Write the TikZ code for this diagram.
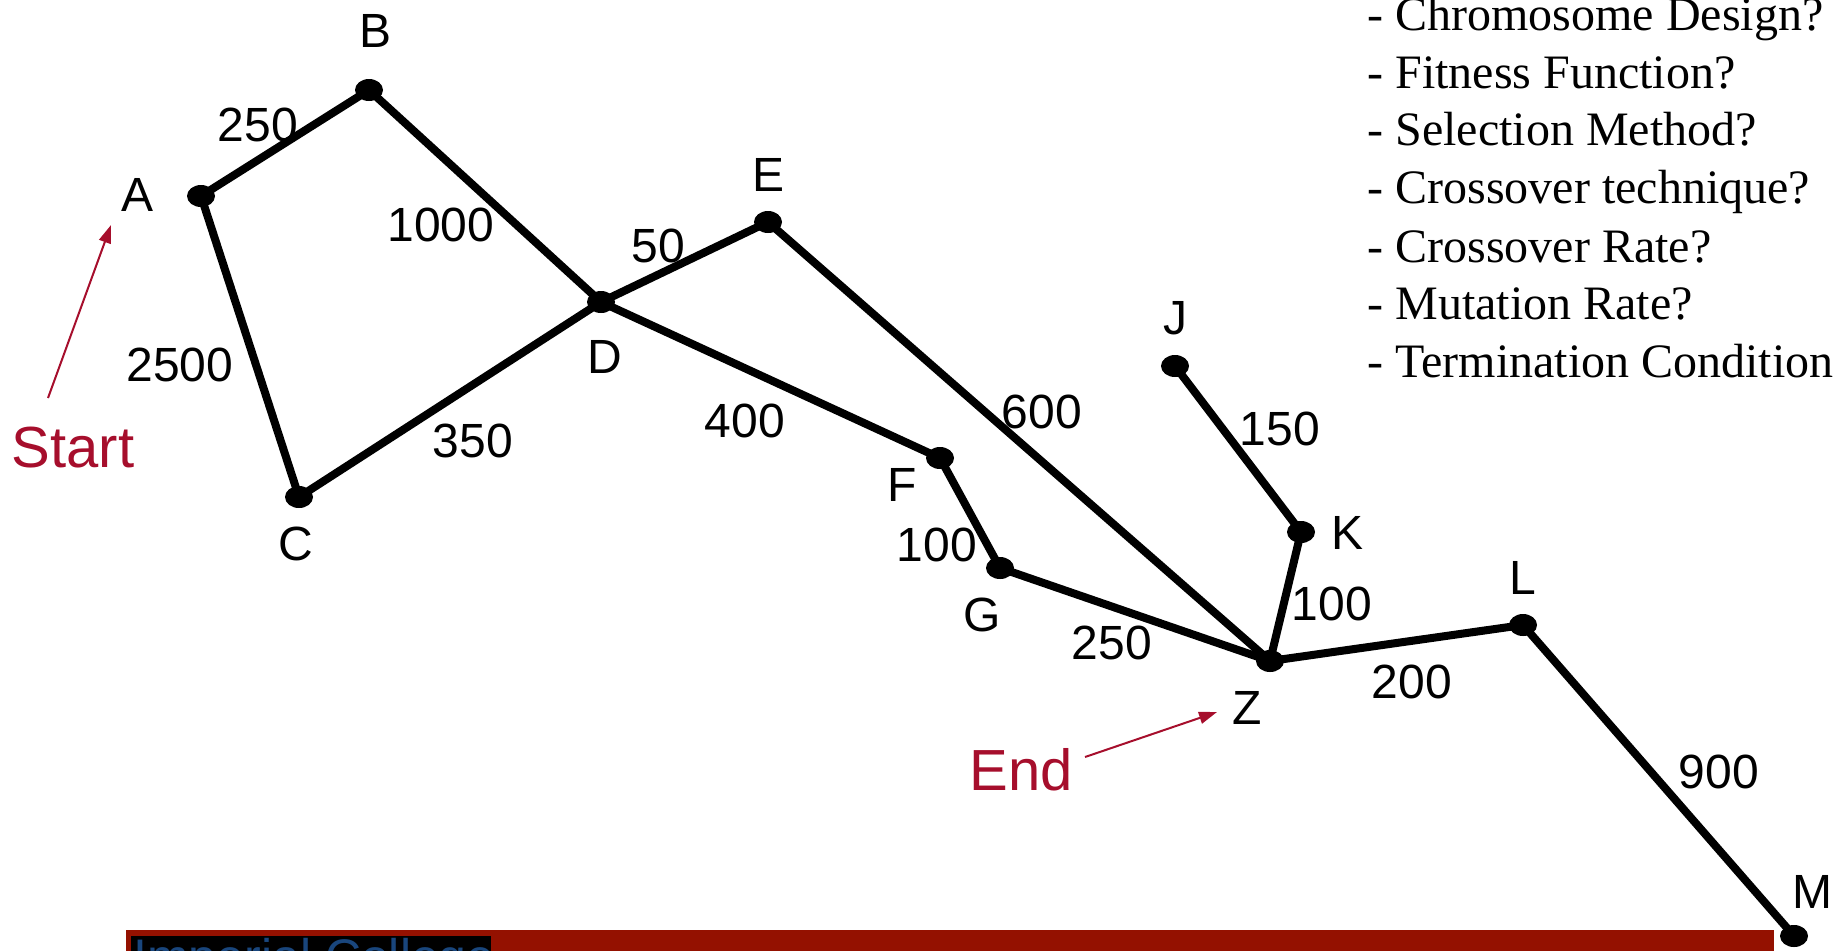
\documentclass[tikz,border=0pt]{standalone}
\usepackage{fontspec}
\setmainfont{Liberation Sans}
\newfontfamily\serifx{Liberation Serif}
\usetikzlibrary{shapes.geometric,arrows.meta}
\definecolor{startred}{RGB}{166,14,44}
\definecolor{barred}{RGB}{148,17,0}
\definecolor{icblue}{RGB}{25,70,125}
\tikzset{
  dot/.style={ellipse,fill=black,inner sep=0pt,minimum width=14pt,minimum height=11pt},
  edge/.style={line width=4pt,black},
  lbl/.style={font=\fontsize{24}{28}\selectfont,inner sep=0pt},
  redlbl/.style={font=\fontsize{29}{34}\selectfont,text=startred,inner sep=0pt},
  redarrow/.style={draw=startred,line width=1pt,-{Triangle[length=9pt,width=6pt]}},
  qline/.style={font=\serifx\fontsize{24}{28}\selectfont,anchor=base west,inner sep=0pt}
}
\begin{document}
\begin{tikzpicture}[x=0.5pt,y=-0.5pt]
\useasboundingbox (0,0) rectangle (1834,950);
\clip (0,0) rectangle (1834,950);
% vertices
\node[dot] (A) at (201,196) {};
\node[dot] (B) at (369,90) {};
\node[dot] (C) at (299,497) {};
\node[dot] (D) at (601,302) {};
\node[dot] (E) at (768,222) {};
\node[dot] (F) at (940,458) {};
\node[dot] (G) at (1000,568) {};
\node[dot] (Z) at (1270,661) {};
\node[dot] (J) at (1175,366) {};
\node[dot] (K) at (1301,532) {};
\node[dot] (L) at (1523,625) {};
\node[dot] (M) at (1794,936) {};
% edges
\draw[edge] (A.center) -- (B.center);
\draw[edge] (A.center) -- (C.center);
\draw[edge] (B.center) -- (D.center);
\draw[edge] (C.center) -- (D.center);
\draw[edge] (D.center) -- (E.center);
\draw[edge] (D.center) -- (F.center);
\draw[edge] (E.center) -- (Z.center);
\draw[edge] (F.center) -- (G.center);
\draw[edge] (G.center) -- (Z.center);
\draw[edge] (J.center) -- (K.center);
\draw[edge] (K.center) -- (Z.center);
\draw[edge] (Z.center) -- (L.center);
\draw[edge] (L.center) -- (M.center);
% vertex labels
\node[lbl] (lA) at (138,195) {A};
\node[lbl] (lB) at (376,31) {B};
\node[lbl] (lC) at (296,544) {C};
\node[lbl] (lD) at (605,357) {D};
\node[lbl] (lE) at (768,175) {E};
\node[lbl] (lF) at (902,485) {F};
\node[lbl] (lG) at (982,615) {G};
\node[lbl] (lZ) at (1247,708) {Z};
\node[lbl] (lJ) at (1175,318) {J};
\node[lbl] (lK) at (1347,533) {K};
\node[lbl] (lL) at (1523,578) {L};
\node[lbl] (lM) at (1812,892) {M};
% weights
\node[lbl] (wAB) at (258,125) {250};
\node[lbl] (wBD) at (441,225) {1000};
\node[lbl] (wAC) at (180,365) {2500};
\node[lbl] (wCD) at (473,441) {350};
\node[lbl] (wDE) at (658,246) {50};
\node[lbl] (wDF) at (745,421) {400};
\node[lbl] (wEZ) at (1042,412) {600};
\node[lbl] (wFG) at (937,545) {100};
\node[lbl] (wJK) at (1280,429) {150};
\node[lbl] (wKZ) at (1332,604) {100};
\node[lbl] (wGZ) at (1112,643) {250};
\node[lbl] (wZL) at (1412,682) {200};
\node[lbl] (wLM) at (1719,772) {900};
% start / end
\node[redlbl] (start) at (73,448) {Start};
\node[redlbl] (endl) at (1021,770) {End};
\coordinate (st0) at (48,398);
\coordinate (st1) at (111,225);
\coordinate (en0) at (1085,757);
\coordinate (en1) at (1217,712);
\draw[redarrow] (st0) -- (st1);
\draw[redarrow] (en0) -- (en1);
% question list
\node[qline] (q1) at (1367,30) {- Chromosome Design?};
\node[qline] (q2) at (1367,88) {- Fitness Function?};
\node[qline] (q3) at (1367,145) {- Selection Method?};
\node[qline] (q4) at (1367,203) {- Crossover technique?};
\node[qline] (q5) at (1367,262) {- Crossover Rate?};
\node[qline] (q6) at (1367,319) {- Mutation Rate?};
\node[qline] (q7) at (1367,377) {- Termination Condition?};
% bottom bar
\fill[barred] (126,930) rectangle (1774,960);
\fill[black] (131,936) rectangle (491,960);
\begin{scope}
\clip (131,936) rectangle (491,960);
\node[font=\fontsize{25}{28}\selectfont,text=icblue,anchor=base west,inner sep=0pt] (ic) at (133,974) {Imperial College};
\end{scope}
\end{tikzpicture}
\end{document}
